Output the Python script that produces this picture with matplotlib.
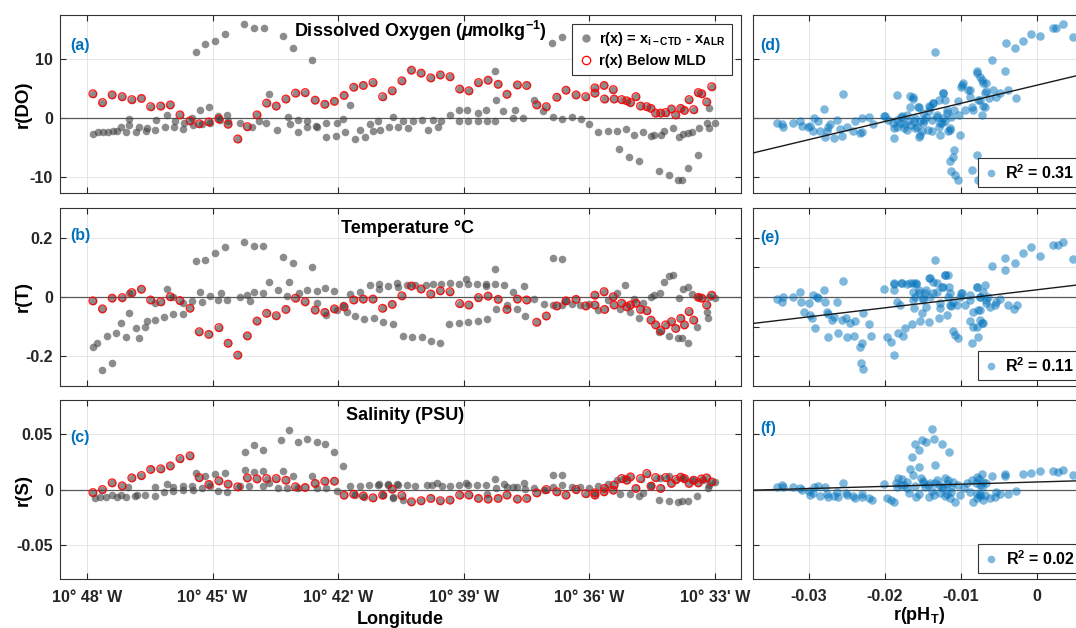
import numpy as np
import matplotlib
matplotlib.use('Agg')
import matplotlib.pyplot as plt
from matplotlib.lines import Line2D
from matplotlib.ticker import FixedLocator, FuncFormatter

plt.rcParams['font.family'] = ['Liberation Sans', 'DejaVu Sans']
plt.rcParams['font.weight'] = 'bold'
plt.rcParams['axes.labelweight'] = 'bold'
plt.rcParams['mathtext.fontset'] = 'custom'
plt.rcParams['mathtext.rm'] = 'Liberation Sans:bold'
plt.rcParams['mathtext.it'] = 'Liberation Sans:italic:bold'
plt.rcParams['mathtext.bf'] = 'Liberation Sans:bold'

# ~~~ DATA ~~~
# longitude given as arc-minutes west of 10 deg W
lon_red = [47.86, 47.63, 47.40, 47.16, 46.93, 46.70, 46.48, 46.24, 46.01, 45.78,
           45.54, 45.32, 45.09, 44.85, 44.63, 44.40, 44.17, 43.94, 43.71, 43.48,
           43.25, 43.02, 42.79, 42.55, 42.32, 42.09, 41.86, 41.63, 41.40, 41.17,
           40.94, 40.71, 40.48, 40.25, 40.02, 39.79, 39.56, 39.33, 39.10, 38.88,
           38.65, 38.42, 38.18, 37.97, 37.72, 37.50, 37.26, 37.03, 36.78, 36.56,
           36.32, 36.09, 35.87, 35.87, 35.65, 35.64, 35.43, 35.41, 35.23, 35.11,
           35.02, 34.89, 34.78, 34.63, 34.53, 34.42, 34.30, 34.18, 34.04, 33.94,
           33.82, 33.73, 33.62, 33.51, 33.40, 33.32, 33.20, 33.08]
do_red = [4.1, 2.6, 3.9, 3.6, 3.1, 3.3, 1.9, 2.0, 2.2, 0.5,
          -0.5, -1.0, -0.7, -0.2, -1.1, -3.6, -1.5, 0.5, 2.5, 2.0,
          3.2, 4.2, 4.3, 3.0, 2.3, 2.8, 3.8, 5.2, 5.5, 6.0,
          3.6, 4.6, 6.3, 8.1, 7.6, 6.8, 7.3, 7.0, 4.9, 4.6,
          6.0, 6.4, 5.7, 4.0, 5.6, 5.5, 2.2, 1.9, 3.5, 4.7,
          3.9, 3.6, 5.1, 4.2, 5.5, 3.2, 4.8, 3.2, 3.1, 2.9,
          2.6, 3.6, 2.0, 1.9, 1.6, 0.8, 0.8, 0.9, 1.5, 0.5,
          1.6, 1.25, 3.1, 1.4, 4.3, 4.1, 2.7, 5.3]
t_red = [-0.013, -0.040, -0.004, -0.002, 0.015, 0.026, -0.010, -0.016, 0.001, -0.012,
         -0.038, -0.117, -0.126, -0.103, -0.156, -0.196, -0.131, -0.081, -0.055, -0.063,
         -0.042, -0.004, -0.016, -0.044, -0.052, -0.040, -0.033, -0.010, -0.007, -0.007,
         -0.038, -0.025, 0.004, 0.037, 0.027, 0.010, 0.021, 0.018, -0.022, -0.027,
         -0.002, 0.003, -0.008, -0.042, -0.007, -0.010, -0.085, -0.064, -0.030, -0.013,
         -0.008, -0.030, 0.006, -0.027, 0.018, -0.042, 0.001, -0.027, -0.021, -0.033,
         -0.027, -0.021, -0.042, -0.046, -0.078, -0.094, -0.113, -0.094, -0.083, -0.106,
         -0.072, -0.094, -0.049, -0.078, -0.001, -0.004, -0.027, 0.006]
s_red = [-0.0027, 0.0, 0.0060, 0.0033, 0.0104, 0.0125, 0.0179, 0.0185, 0.0211, 0.0277,
         0.0301, 0.0107, 0.0045, 0.0077, 0.0048, 0.0024, 0.0104, 0.0095, 0.0098, 0.0098,
         0.0083, 0.0024, 0.0018, 0.0054, 0.0074, 0.0074, -0.0051, -0.0042, -0.0057, -0.0074,
         -0.0051, 0.0003, -0.0054, -0.0110, -0.0100, -0.0080, -0.0100, -0.0095, -0.0050, -0.0050,
         -0.0080, -0.0086, -0.0080, -0.0050, -0.0086, -0.0080, -0.0030, 0.0, -0.0020, -0.0050,
         0.0, -0.0036, -0.0050, -0.0030, -0.0020, 0.0010, -0.0006, 0.0040, 0.0098, 0.0083,
         0.0113, 0.0009, 0.0098, 0.0143, 0.0030, 0.0107, 0.0009, 0.0107, 0.0054, 0.0089,
         0.0110, 0.0098, 0.0054, 0.0083, 0.0060, 0.0095, 0.0104, 0.0068]

lon_do = [47.85, 47.73, 47.61, 47.49, 47.39, 47.29, 47.20, 47.08, 47.00, 47.00,
          46.83, 46.77, 46.59, 46.56, 46.38, 46.35, 46.14, 46.10, 45.92, 45.90,
          45.70, 45.68, 45.50, 45.46, 45.30, 45.26, 45.08, 45.06, 44.86, 44.82,
          44.66, 44.63, 44.35, 44.07, 43.89, 45.40, 45.17, 44.94, 44.70, 44.24,
          44.01, 43.78, 43.32, 43.09, 42.63, 43.66, 43.73, 43.47, 43.21, 43.15,
          42.97, 42.95, 42.75, 42.74, 42.53, 42.51, 42.29, 42.28, 42.06, 42.04,
          41.84, 41.89, 41.72, 41.60, 41.48, 41.36, 41.24, 41.16, 41.04, 41.00,
          40.78, 40.68, 40.57, 40.45, 40.33, 40.21, 40.01, 39.86, 39.73, 39.61,
          39.55, 39.33, 39.11, 38.92, 39.11, 38.89, 38.65, 38.65, 38.47, 38.45,
          38.26, 38.26, 38.22, 38.06, 37.82, 37.78, 37.58, 37.32, 37.10, 36.89,
          36.65, 36.86, 36.65, 36.42, 36.21, 36.00, 35.79, 35.56, 35.35, 35.29,
          35.13, 35.05, 34.94, 34.81, 34.73, 34.54, 34.46, 34.33, 34.30, 34.21,
          34.11, 34.00, 33.88, 33.80, 33.86, 33.76, 33.65, 33.64, 33.54, 33.40,
          33.38, 33.20, 33.14, 33.14, 33.00]
do_gray = [-2.7, -2.5, -2.4, -2.4, -2.3, -2.2, -1.6, -2.4, -0.2, -1.2,
           -2.4, -1.5, -2.3, -1.7, -2.1, -0.3, -1.5, 0.4, -1.5, -0.6,
           -1.9, -0.8, 0.0, -1.2, 1.4, -1.1, 1.8, -0.8, 0.3, -0.4,
           0.4, -0.6, -0.8, -1.5, -0.6, 11.2, 12.6, 13.1, 14.2, 16.0,
           15.3, 15.3, 13.9, 11.9, 9.9, 4.0, -0.8, -2.0, 0.1, -1.0,
           -0.3, -2.4, -0.5, -1.5, -1.4, -1.6, -3.3, -0.9, -3.1, -0.8,
           -2.5, -0.2, 2.2, -3.6, -2.0, -3.2, -1.0, -2.2, -0.5, -2.0,
           -1.5, 0.2, -1.5, -0.6, -1.8, -0.6, -0.3, -2.0, -0.3, -1.5,
           -0.6, 0.5, 1.25, 1.4, -0.5, -0.5, 0.8, -0.5, 1.25, -0.5,
           8.0, -0.5, 3.0, 1.1, 0.0, 1.4, 0.0, 3.0, 1.1, 12.7,
           13.75, 0.1, -0.2, 0.2, -0.2, -1.0, -2.4, -2.2, -2.2, -5.3,
           -1.9, -6.6, -2.9, -7.4, -2.5, -3.1, -2.9, -9.1, -3.0, -2.2,
           -9.7, -1.8, -10.6, -10.6, -3.3, -2.7, -8.6, -2.6, -2.5, -6.3,
           -1.8, -0.9, 1.6, -1.8, -0.8]

lon_t = [47.85, 47.75, 47.63, 47.41, 47.53, 47.31, 47.20, 47.07, 46.99, 46.99,
         46.83, 46.77, 46.61, 46.57, 46.38, 46.38, 46.16, 46.10, 45.94, 45.94,
         45.71, 45.71, 45.50, 45.40, 45.30, 45.25, 45.17, 45.06, 44.94, 44.86,
         44.81, 44.70, 44.65, 44.35, 44.24, 44.19, 44.11, 44.01, 44.01, 43.79,
         43.79, 43.66, 43.45, 43.32, 43.17, 43.22, 43.09, 42.94, 42.75, 42.63,
         42.51, 42.51, 42.32, 42.28, 42.10, 42.04, 41.88, 41.80, 41.72, 41.60,
         41.48, 41.38, 41.24, 41.15, 41.02, 41.02, 40.92, 40.80, 40.68, 40.60,
         40.57, 40.46, 40.36, 40.23, 40.17, 40.01, 39.90, 39.78, 39.74, 39.57,
         39.55, 39.35, 39.33, 39.12, 39.12, 38.96, 38.89, 38.89, 38.68, 38.65,
         38.47, 38.47, 38.44, 38.26, 38.26, 38.22, 38.04, 37.98, 37.82, 37.74,
         37.56, 37.53, 37.32, 37.09, 36.88, 36.86, 36.65, 36.65, 36.58, 36.42,
         36.23, 36.00, 35.79, 35.56, 35.35, 35.27, 35.15, 35.03, 34.94, 34.81,
         34.73, 34.54, 34.46, 34.33, 34.32, 34.22, 34.11, 34.09, 34.00, 33.88,
         33.86, 33.80, 33.76, 33.65, 33.64, 33.54, 33.42, 33.38, 33.20, 33.16,
         33.14, 33.00]
t_gray = [-0.167, -0.156, -0.246, -0.221, -0.131, -0.122, -0.089, -0.134, -0.053, 0.015,
          -0.103, -0.137, -0.102, -0.081, -0.078, -0.021, -0.066, 0.026, -0.058, -0.001,
          -0.058, -0.021, -0.012, 0.122, 0.017, -0.018, 0.125, 0.003, 0.147, -0.010,
          0.015, 0.170, -0.010, 0.001, 0.187, 0.006, -0.013, 0.173, 0.016, 0.173,
          0.012, 0.052, 0.024, 0.136, 0.052, 0.003, 0.113, 0.015, 0.024, 0.102,
          0.021, -0.021, 0.031, -0.061, 0.021, -0.044, -0.027, -0.052, 0.010, -0.064,
          0.018, -0.075, 0.040, -0.070, 0.044, 0.027, -0.083, 0.037, -0.092, 0.048,
          0.033, -0.130, 0.040, -0.134, 0.040, -0.134, 0.040, -0.147, 0.044, -0.154,
          0.044, -0.092, 0.046, -0.087, 0.044, 0.062, -0.083, 0.044, 0.044, -0.081,
          0.044, 0.037, -0.073, 0.093, 0.044, -0.042, 0.040, -0.027, 0.018, -0.040,
          0.037, -0.064, -0.008, -0.022, 0.130, -0.027, 0.127, -0.027, -0.013, -0.025,
          -0.027, -0.025, -0.044, -0.010, 0.015, -0.042, 0.040, -0.051, -0.008, -0.072,
          -0.019, 0.001, 0.007, -0.117, 0.015, 0.052, -0.130, 0.072, 0.074, -0.139,
          -0.002, -0.139, 0.026, -0.156, 0.035, 0.010, -0.100, 0.001, -0.049, -0.070,
          0.001, -0.004]

lon_s = [47.81, 47.69, 47.55, 47.41, 47.29, 47.20, 47.07, 47.01, 46.85, 46.81,
         46.61, 46.38, 46.38, 46.16, 46.10, 45.94, 45.94, 45.71, 45.71, 45.50,
         45.48, 45.40, 45.26, 45.17, 45.06, 44.94, 44.86, 44.70, 44.65, 44.35,
         44.23, 44.23, 44.12, 44.01, 44.01, 43.79, 43.79, 43.79, 43.66, 43.45,
         43.37, 43.33, 43.17, 43.09, 43.22, 42.95, 42.95, 42.74, 42.63, 42.51,
         42.51, 42.32, 42.28, 42.10, 42.04, 41.89, 41.72, 41.60, 41.48, 41.38,
         41.26, 41.04, 41.02, 40.92, 40.80, 40.68, 40.59, 40.80, 40.68, 40.57,
         40.46, 40.36, 40.17, 39.89, 39.77, 39.63, 39.53, 39.33, 39.12, 38.95,
         38.89, 38.68, 38.47, 38.45, 38.26, 38.24, 38.04, 37.98, 37.82, 37.74,
         37.56, 37.53, 37.32, 37.09, 36.88, 36.86, 36.65, 36.65, 36.42, 36.23,
         36.00, 35.79, 35.56, 35.35, 35.27, 35.15, 35.03, 34.81, 34.73, 34.54,
         34.33, 34.32, 34.11, 34.09, 33.88, 33.80, 33.76, 33.64, 33.54, 33.42,
         33.28, 33.16, 33.14, 33.00]
s_gray = [-0.0080, -0.0070, -0.0070, -0.0050, -0.0065, -0.0050, -0.0070, 0.0024, -0.0057, -0.0050,
          -0.0050, 0.0018, -0.0057, -0.0020, 0.0045, 0.0024, -0.0012, 0.0030, 0.0, 0.0030,
          0.0, 0.0149, 0.0009, 0.0125, 0.0030, 0.0143, -0.0012, 0.0149, -0.0020, 0.0030,
          0.0336, 0.0173, 0.0030, 0.0396, 0.0158, 0.0357, 0.0167, 0.0030, 0.0054, 0.0009,
          0.0446, 0.0167, 0.0536, 0.0125, 0.0009, 0.0426, 0.0009, 0.0455, 0.0119, 0.0426,
          0.0009, 0.0405, 0.0009, 0.0336, -0.0012, 0.0208, 0.0030, -0.0050, 0.0030, -0.0065,
          0.0039, 0.0039, 0.0048, -0.0050, 0.0048, -0.0070, 0.0045, 0.0039, -0.0080, 0.0039,
          -0.0090, 0.0039, 0.0030, 0.0039, 0.0039, 0.0054, 0.0030, 0.0030, 0.0039, 0.0060,
          0.0039, 0.0039, 0.0039, -0.0040, 0.0098, 0.0009, 0.0048, 0.0024, 0.0024, 0.0018,
          0.0054, 0.0006, 0.0009, 0.0, 0.0134, 0.0018, 0.0128, 0.0039, 0.0018, 0.0018,
          0.0009, 0.0030, 0.0048, 0.0089, -0.0036, 0.0107, -0.0036, -0.0060, -0.0030, 0.0039,
          -0.0095, 0.0107, -0.0100, 0.0119, -0.0110, -0.0104, 0.0107, -0.0104, 0.0089, -0.0060,
          0.0083, 0.0009, 0.0039, 0.0063]

# residuals against r(pH_T)
ph_do = [-0.0342, -0.0335, -0.0334, -0.0320, -0.0311, -0.0309, -0.0301, -0.0298, -0.0294, -0.0293,
         -0.0288, -0.0285, -0.0279, -0.0278, -0.0276, -0.0274, -0.0272, -0.0267, -0.0262, -0.0258,
         -0.0256, -0.0254, -0.0249, -0.0242, -0.0239, -0.0232, -0.0229, -0.0229, -0.0220, -0.0215,
         -0.0201, -0.0195, -0.0188, -0.0188, -0.0184, -0.0183, -0.0177, -0.0175, -0.0171, -0.0166,
         -0.0166, -0.0163, -0.0161, -0.0160, -0.0155, -0.0154, -0.0153, -0.0151, -0.0148, -0.0145,
         -0.0142, -0.0141, -0.0138, -0.0136, -0.0133, -0.0131, -0.0129, -0.0127, -0.0125, -0.0123,
         -0.0120, -0.0118, -0.0116, -0.0114, -0.0112, -0.0110, -0.0109, -0.0114, -0.0112, -0.0107,
         -0.0103, -0.0103, -0.0102, -0.0101, -0.0099, -0.0097, -0.0094, -0.0090, -0.0088, -0.0085,
         -0.0085, -0.0079, -0.0077, -0.0078, -0.0075, -0.0074, -0.0072, -0.0070, -0.0068, -0.0066,
         -0.0062, -0.0059, -0.0057, -0.0053, -0.0048, -0.0042, -0.0040, -0.0037, -0.0029, -0.0027,
         -0.0018, -0.0007, 0.0004, 0.0021, 0.0026, 0.0035, 0.0048, -0.0199, -0.0189, -0.0184,
         -0.0178, -0.0175, -0.0169, -0.0165, -0.0162, -0.0156, -0.0153, -0.0149, -0.0143, -0.0140,
         -0.0136, -0.0131, -0.0129, -0.0123, -0.0120, -0.0118, -0.0114, -0.0109, -0.0098, -0.0088,
         -0.0079, -0.0077, -0.0072, -0.0068, -0.0083, -0.0070, -0.0066, -0.0160, -0.0171, -0.0149,
         -0.0138, -0.0127, -0.0180, -0.0157, -0.0123]
do_ph = [-0.9, -1.0, -1.5, -0.9, -0.6, -1.4, -1.6, -1.4, -2.2, -0.1,
         -0.5, -2.3, 1.5, -3.3, -2.2, -1.5, -1.0, -3.5, -0.3, -1.9,
         -3.1, 4.1, -1.6, -2.2, -0.6, -2.6, -2.5, -0.1, 0.1, -1.0,
         0.3, -0.3, -3.5, -1.8, 3.9, -0.3, 0.3, -1.0, -2.0, 1.9,
         3.75, 3.2, -0.6, -1.8, -3.3, 1.9, -0.6, -2.3, -0.3, 0.2,
         1.1, 2.0, -2.3, 2.5, 11.2, 0.5, -1.5, -2.9, -0.9, 4.2,
         3.1, 0.8, -2.3, -1.8, 0.1, -6.6, -5.5, -7.4, -9.1, -9.7,
         -10.6, 2.8, 0.5, -2.9, 5.3, 6.0, 1.4, 4.8, 3.6, 1.9,
         -8.9, -6.3, -10.6, 7.9, 7.0, 3.1, 0.5, 5.9, 1.9, 4.5,
         3.4, 9.9, 4.8, 3.6, 4.2, 7.9, 12.7, 4.7, 11.9, 3.4,
         13.1, 14.2, 13.9, 15.3, 15.3, 16.0, 13.75, 0.3, -0.8, -1.5,
         0.2, -1.75, -0.6, -1.2, 3.6, 1.9, -2.9, -0.9, -2.0, 1.9,
         2.5, 0.2, 3.1, 4.2, -0.6, 1.4, -2.0, 1.4, 5.6, 4.8,
         7.6, 3.1, 6.5, 4.2, 1.4, 2.0, 5.9, -0.05, 0.5, 0.8,
         -0.35, -0.9, -0.9, -1.5, -0.05]

ph_t = [-0.0342, -0.0335, -0.0334, -0.0320, -0.0311, -0.0310, -0.0306, -0.0300, -0.0298, -0.0296,
        -0.0294, -0.0291, -0.0289, -0.0287, -0.0279, -0.0278, -0.0276, -0.0275, -0.0274, -0.0269,
        -0.0267, -0.0262, -0.0261, -0.0256, -0.0254, -0.0251, -0.0250, -0.0245, -0.0240, -0.0239,
        -0.0232, -0.0231, -0.0229, -0.0228, -0.0228, -0.0221, -0.0218, -0.0201, -0.0197, -0.0191,
        -0.0188, -0.0188, -0.0187, -0.0184, -0.0182, -0.0180, -0.0177, -0.0176, -0.0173, -0.0170,
        -0.0164, -0.0163, -0.0161, -0.0160, -0.0158, -0.0155, -0.0153, -0.0151, -0.0149, -0.0147,
        -0.0145, -0.0142, -0.0141, -0.0140, -0.0136, -0.0133, -0.0131, -0.0129, -0.0127, -0.0124,
        -0.0120, -0.0118, -0.0116, -0.0115, -0.0114, -0.0112, -0.0110, -0.0107, -0.0105, -0.0103,
        -0.0101, -0.0099, -0.0094, -0.0088, -0.0088, -0.0085, -0.0083, -0.0079, -0.0079, -0.0077,
        -0.0075, -0.0074, -0.0074, -0.0072, -0.0070, -0.0068, -0.0066, -0.0064, -0.0061, -0.0058,
        -0.0055, -0.0053, -0.0048, -0.0042, -0.0042, -0.0037, -0.0029, -0.0030, -0.0026, -0.0018,
        -0.0007, 0.0004, 0.0021, 0.0028, 0.0035, 0.0048, -0.0188, -0.0178, -0.0166, -0.0158,
        -0.0162, -0.0154, -0.0145, -0.0140, -0.0136, -0.0131, -0.0123, -0.0120, -0.0116, -0.0114,
        -0.0149, -0.0162, -0.0127, -0.0110, -0.0079, -0.0074, -0.0077, -0.0070, -0.0083, -0.0066,
        -0.0098, -0.0088]
t_ph = [-0.008, -0.016, 0.001, -0.001, 0.016, -0.016, -0.049, -0.021, -0.061, -0.072,
        0.006, -0.106, -0.001, -0.004, 0.024, -0.016, -0.049, -0.134, -0.057, -0.078,
        -0.066, -0.016, -0.122, -0.078, 0.054, -0.070, -0.134, -0.089, -0.130, -0.081,
        -0.167, -0.221, -0.154, -0.053, -0.244, -0.092, -0.130, 0.027, -0.134, -0.151,
        0.044, -0.196, 0.024, -0.016, -0.122, -0.027, 0.046, -0.131, -0.106, 0.044,
        -0.092, 0.046, -0.038, 0.001, 0.044, 0.024, -0.081, -0.055, -0.004, 0.015,
        -0.033, -0.083, 0.063, 0.001, 0.052, 0.125, 0.018, -0.072, -0.038, 0.035,
        0.074, -0.061, 0.074, 0.035, 0.012, -0.030, -0.113, -0.128, -0.027, -0.139,
        0.001, 0.012, -0.027, -0.080, 0.007, -0.156, -0.049, 0.035, -0.100, -0.134,
        -0.078, 0.001, -0.044, -0.089, 0.018, 0.040, -0.010, 0.001, -0.033, 0.104,
        -0.027, -0.016, -0.008, 0.091, 0.130, -0.027, 0.116, -0.042, -0.027, 0.147,
        0.170, 0.138, 0.175, 0.175, 0.187, 0.127, 0.046, 0.046, 0.046, 0.046,
        0.018, 0.012, 0.024, 0.063, 0.012, 0.046, 0.035, 0.074, 0.001, -0.027,
        -0.010, -0.010, -0.021, -0.016, 0.035, 0.001, -0.044, -0.088, -0.100, -0.021,
        0.012, -0.010]

ph_s = [-0.0342, -0.0335, -0.0334, -0.0320, -0.0311, -0.0309, -0.0300, -0.0298, -0.0294, -0.0293,
        -0.0288, -0.0285, -0.0278, -0.0276, -0.0274, -0.0267, -0.0262, -0.0261, -0.0254, -0.0251,
        -0.0249, -0.0241, -0.0239, -0.0229, -0.0229, -0.0220, -0.0217, -0.0201, -0.0197, -0.0191,
        -0.0188, -0.0184, -0.0182, -0.0177, -0.0175, -0.0171, -0.0166, -0.0164, -0.0163, -0.0160,
        -0.0158, -0.0155, -0.0154, -0.0152, -0.0151, -0.0149, -0.0147, -0.0145, -0.0142, -0.0140,
        -0.0138, -0.0137, -0.0135, -0.0134, -0.0131, -0.0129, -0.0127, -0.0124, -0.0123, -0.0120,
        -0.0118, -0.0116, -0.0115, -0.0114, -0.0112, -0.0110, -0.0107, -0.0103, -0.0101, -0.0096,
        -0.0092, -0.0088, -0.0085, -0.0083, -0.0079, -0.0078, -0.0075, -0.0074, -0.0072, -0.0071,
        -0.0068, -0.0066, -0.0061, -0.0058, -0.0055, -0.0053, -0.0048, -0.0042, -0.0042, -0.0037,
        -0.0027, -0.0018, -0.0007, 0.0004, 0.0021, 0.0028, 0.0035, 0.0048, -0.0185, -0.0178,
        -0.0170, -0.0160, -0.0150, -0.0143, -0.0133, -0.0125, -0.0118, -0.0112, -0.0080, -0.0076,
        -0.0072, -0.0079, -0.0075, -0.0070, -0.0168, -0.0155, -0.0135, -0.0120]
s_ph = [0.0024, 0.0039, 0.0018, 0.0018, 0.0009, -0.0006, -0.0012, -0.0051, -0.0030, 0.0018,
        0.0030, -0.0060, 0.0024, -0.0036, -0.0071, -0.0060, -0.0021, -0.0071, 0.0054, -0.0030,
        -0.0051, -0.0060, -0.0080, -0.0042, -0.0071, -0.0080, -0.0095, 0.0048, -0.0080, -0.0095,
        -0.0110, 0.0024, 0.0107, 0.0098, 0.0039, 0.0009, 0.0179, 0.0292, 0.0128, 0.0405,
        -0.0065, 0.0357, 0.0202, 0.0107, 0.0446, 0.0054, 0.0024, 0.0426, -0.0065, 0.0054,
        -0.0012, 0.0539, 0.0455, 0.0217, 0.0083, 0.0039, -0.0030, 0.0411, 0.0009, 0.0107,
        -0.0036, 0.0083, 0.0336, -0.0080, 0.0024, 0.0068, -0.0110, 0.0039, -0.0051, 0.0009,
        0.0054, -0.0021, 0.0083, -0.0110, 0.0113, -0.0080, 0.0039, -0.0036, 0.0143, -0.0095,
        -0.0051, 0.0054, -0.0080, 0.0119, -0.0065, -0.0021, -0.0036, 0.0119, 0.0137, -0.0042,
        -0.0012, 0.0143, 0.0149, 0.0167, 0.0167, 0.0158, 0.0173, 0.0128, 0.0060, 0.0040,
        0.0070, 0.0030, 0.0080, 0.0040, 0.0060, 0.0020, 0.0050, -0.0020, 0.0060, 0.0090,
        0.0020, -0.0040, -0.0060, 0.0070, -0.0030, -0.0040, -0.0050, -0.0060]

# linear fits: slope, intercept, R^2
fit_slope = [309.0, 3.04, 0.196]
fit_icpt = [5.54, 0.0242, 0.0067]
fit_r2 = ['0.31', '0.11', '0.02']

titles = [r'Dissolved Oxygen ($\mu$molkg$^{\mathregular{-1}}$)', 'Temperature \u00b0C', 'Salinity (PSU)']
ylabels = ['r(DO)', 'r(T)', 'r(S)']
ylims = [(-12.8, 17.5), (-0.3, 0.3), (-0.08, 0.08)]
left_yticks = [[-10, 0, 10], [-0.2, 0, 0.2], [-0.05, 0, 0.05]]
right_yticks = [[-10, 0, 10], [-0.2, -0.1, 0, 0.1, 0.2], [-0.05, 0, 0.05]]
ytick_labels = [['-10', '0', '10'], ['-0.2', '0', '0.2'], ['-0.05', '0', '0.05']]
lon_ticks = [48, 45, 42, 39, 36, 33]
ph_ticks = [-0.03, -0.02, -0.01, 0]
ph_tick_labels = ['-0.03', '-0.02', '-0.01', '0']


def to_lon(m):
    return -(10 + np.asarray(m) / 60.0)


def lon_fmt(x, pos):
    m = int(round((-x - 10) * 60))
    return "10\u00b0 %d' W" % m


def style(ax):
    for sp in ax.spines.values():
        sp.set_color('0.2')
        sp.set_linewidth(0.8)
    ax.tick_params(direction='in', top=True, right=True, length=4, width=0.8,
                   colors='0.15', labelsize=11.5, pad=5)
    ax.grid(True, color='0.88', lw=0.6)
    ax.set_axisbelow(True)
    ax.axhline(0, color='0.35', lw=0.9, zorder=1.5)


W, H = 1076.0, 628.0
rows_px = [(15, 193), (208, 386), (400, 579)]
fig = plt.figure(figsize=(10.76, 6.28), dpi=100)

left_sets = [(lon_do, do_gray, do_red), (lon_t, t_gray, t_red), (lon_s, s_gray, s_red)]
right_sets = [(ph_do, do_ph), (ph_t, t_ph), (ph_s, s_ph)]
title_pos = [(0.53, 0.91), (0.51, 0.884), (0.507, 0.916)]
left_lab_y = [0.826, 0.843, 0.788]
right_lab_y = [0.826, 0.837, 0.838]
lx0, lx1 = -(10 + 48.645 / 60), -(10 + 32.38 / 60)
px0, px1 = -0.0373, 0.0065
blue = '#0072BD'

for i, (top, bot) in enumerate(rows_px):
    # ~~~ left: residual along the transect ~~~
    ax = fig.add_axes([60 / W, 1 - bot / H, 681 / W, (bot - top) / H])
    style(ax)
    lon_g, val_g, val_r = left_sets[i]
    ax.scatter(to_lon(lon_g), val_g, s=30, color='0.25', alpha=0.6, linewidths=0, zorder=3)
    ax.scatter(to_lon(lon_red), val_r, s=30, color='0.25', alpha=0.6, linewidths=0, zorder=3)
    ax.scatter(to_lon(lon_red), val_r, s=30, facecolors='none', edgecolors='red',
               linewidths=1.0, alpha=0.85, zorder=4)
    ax.set_xlim(lx0, lx1)
    ax.set_ylim(*ylims[i])
    ax.xaxis.set_major_locator(FixedLocator(list(to_lon(lon_ticks))))
    ax.xaxis.set_major_formatter(FuncFormatter(lon_fmt))
    ax.set_yticks(left_yticks[i])
    ax.set_yticklabels(ytick_labels[i])
    ax.set_ylabel(ylabels[i], fontsize=13.5, fontweight='bold')
    ax.yaxis.set_label_coords(-0.042, 0.5)
    ax.text(title_pos[i][0], title_pos[i][1], titles[i], transform=ax.transAxes,
            ha='center', va='center', fontsize=13, fontweight='bold')
    ax.text(0.015, left_lab_y[i], '(%s)' % 'abc'[i], transform=ax.transAxes,
            color=blue, fontsize=11.5, fontweight='bold', va='center')
    if i < 2:
        ax.tick_params(labelbottom=False)
    else:
        ax.tick_params(axis='x', pad=8)
        ax.set_xlabel('Longitude', fontsize=13, fontweight='bold', labelpad=4)
    if i == 0:
        h1 = Line2D([], [], ls='none', marker='o', ms=6, mfc='0.25', mec='none', alpha=0.6)
        h2 = Line2D([], [], ls='none', marker='o', ms=6, mfc='none', mec='red', mew=0.9)
        leg = ax.legend([h1, h2], [r'r(x) = x$_{\mathregular{i-CTD}}$ - x$_{\mathregular{ALR}}$',
                                   'r(x) Below MLD'],
                        loc='upper right', fontsize=10.5, fancybox=False, framealpha=1,
                        edgecolor='0.2', borderaxespad=0.6, handlelength=1.0,
                        handletextpad=0.4, labelspacing=0.4, borderpad=0.45)
        leg.get_frame().set_linewidth(0.8)

    # ~~~ right: residual versus r(pH_T) ~~~
    ax2 = fig.add_axes([753 / W, 1 - bot / H, 333 / W, (bot - top) / H])
    style(ax2)
    xr, yr = right_sets[i]
    ax2.scatter(xr, yr, s=38, color=blue, alpha=0.5, linewidths=0, zorder=3)
    xs = np.array([px0, px1])
    ax2.plot(xs, fit_slope[i] * xs + fit_icpt[i], color='0.1', lw=1.0, zorder=4)
    ax2.set_xlim(px0, px1)
    ax2.set_ylim(*ylims[i])
    ax2.set_xticks(ph_ticks)
    ax2.set_yticks(right_yticks[i])
    ax2.tick_params(labelleft=False)
    ax2.text(0.023, right_lab_y[i], '(%s)' % 'def'[i], transform=ax2.transAxes,
             color=blue, fontsize=11.5, fontweight='bold', va='center')
    hb = Line2D([], [], ls='none', marker='o', ms=5.5, mfc=blue, mec='none', alpha=0.5)
    leg2 = ax2.legend([hb], [r'R$^{\mathregular{2}}$ = ' + fit_r2[i]], loc='lower right',
                      fontsize=11.5, fancybox=False, framealpha=1, edgecolor='0.2',
                      borderaxespad=0.35, handlelength=1.0, handletextpad=0.4, borderpad=0.35)
    leg2.get_frame().set_linewidth(0.8)
    if i < 2:
        ax2.tick_params(labelbottom=False)
    else:
        ax2.set_xticklabels(ph_tick_labels)
        ax2.tick_params(axis='x', pad=7)
        ax2.set_xlabel(r'r(pH$_{\mathregular{T}}$)', fontsize=13, fontweight='bold', labelpad=1)

fig.savefig('out.png', dpi=100)
